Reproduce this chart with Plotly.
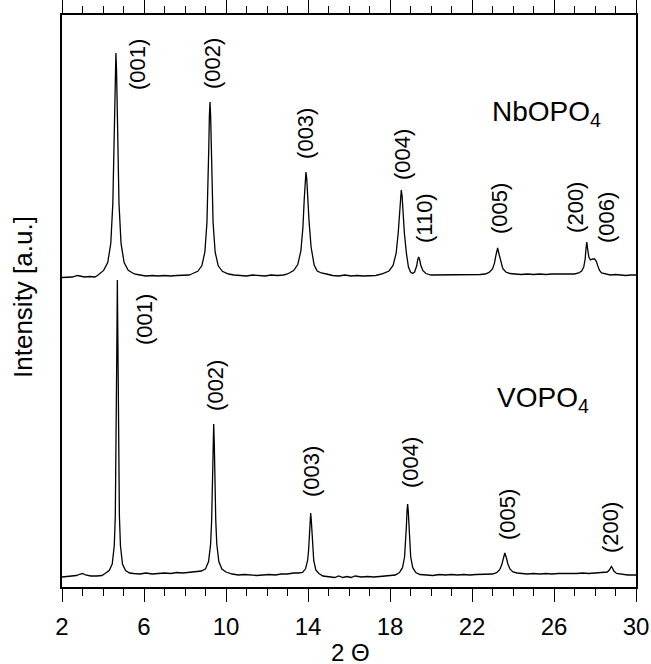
import plotly.graph_objects as go

# ---------------- data ----------------
# VOPO4 pattern: 2-theta (deg) and intensity (a.u.)
V_2THETA = [2.00, 2.20, 2.45, 2.70, 2.90, 3.00, 3.15, 3.40, 3.70, 3.95,
            4.10, 4.30, 4.45, 4.55, 4.60, 4.64, 4.67, 4.70, 4.73, 4.76, 4.80, 4.85, 4.95, 5.10, 5.30,
            5.50, 5.80, 6.10, 6.40, 6.70, 7.00, 7.30, 7.60, 7.90, 8.20, 8.50, 8.80,
            9.00, 9.15, 9.25, 9.30, 9.34, 9.37, 9.40, 9.43, 9.46, 9.50, 9.55, 9.65, 9.80, 10.00,
            10.30, 10.60, 10.90, 11.20, 11.50, 11.80, 12.10, 12.40, 12.70, 13.00, 13.30, 13.53,
            13.73, 13.88, 13.98, 14.03, 14.07, 14.10, 14.13, 14.16, 14.19, 14.23, 14.28, 14.38, 14.53, 14.73,
            15.00, 15.30, 15.50, 15.70, 15.90, 16.10, 16.30, 16.60, 16.90, 17.20, 17.50, 17.80, 18.10, 18.26,
            18.46, 18.61, 18.71, 18.76, 18.80, 18.83, 18.86, 18.89, 18.92, 18.96, 19.01, 19.11, 19.26, 19.46,
            19.80, 20.10, 20.40, 20.70, 21.00, 21.30, 21.60, 21.90, 22.20, 22.50, 22.80, 23.00,
            23.20, 23.35, 23.45, 23.52, 23.60, 23.68, 23.75, 23.85, 24.00, 24.20, 24.40,
            24.70, 25.00, 25.30, 25.60, 25.90, 26.20, 26.50, 26.80, 27.10, 27.40, 27.70, 28.00, 28.25,
            28.40, 28.50, 28.60, 28.70, 28.76, 28.80, 28.85, 28.92, 29.05, 29.30, 29.60, 30.00]
V_INTENSITY = [10, 10.5, 11, 11.5, 13, 13.5, 12, 11, 11, 11.5,
               13.5, 16.5, 23, 41.5, 71, 133, 229, 307, 229, 133, 71, 41.5, 23, 16.5, 14,
               13.5, 13, 14, 13, 13.5, 14, 13.5, 14.5, 14, 14.5, 15, 16,
               18.1, 25.4, 43, 67, 104.5, 142, 163, 142, 104.5, 67, 43, 25.4, 18, 15,
               13, 12, 12.5, 12, 11.5, 12, 12.5, 12, 13, 13, 14, 14,
               14.6, 18.2, 26.5, 37, 53, 67, 74, 67, 53, 37, 26.5, 17, 13.5, 11,
               10, 9.5, 11, 9.5, 10.5, 9.5, 11, 10, 10.5, 10, 10.5, 11, 11.5, 12,
               14.5, 19.3, 30, 43, 61, 76, 83, 76, 61, 43, 30, 19.3, 14.5, 12.5,
               12, 11.5, 12.5, 12, 12.5, 12, 12.5, 12, 12.5, 12.5, 13, 13,
               14.4, 17.3, 22.2, 28.5, 34, 29, 23, 18, 15, 14, 13.5,
               13, 13.5, 13, 13.5, 13, 13.5, 13.5, 13, 13.5, 14, 13.5, 14, 14.5,
               15, 15.5, 15, 17, 19.5, 20.5, 19, 16, 13.5, 12.5, 12, 12]

# NbOPO4 pattern: 2-theta (deg) and intensity (a.u.), drawn shifted up by NB_OFFSET
NB_2THETA = [2.00, 2.25, 2.50, 2.75, 2.90, 3.10, 3.35, 3.60, 3.73,
             4.03, 4.23, 4.38, 4.48, 4.53, 4.57, 4.60, 4.63, 4.66, 4.69, 4.73, 4.78, 4.88, 5.03, 5.23, 5.53,
             5.80, 6.10, 6.40, 6.70, 7.00, 7.30, 7.60, 7.90, 8.20, 8.32,
             8.62, 8.82, 8.97, 9.07, 9.12, 9.16, 9.19, 9.22, 9.25, 9.28, 9.32, 9.37, 9.47, 9.62, 9.82, 10.12,
             10.40, 10.70, 11.00, 11.30, 11.60, 11.90, 12.20, 12.50, 12.80, 13.00,
             13.30, 13.50, 13.65, 13.75, 13.82, 13.86, 13.90, 13.94, 13.98, 14.05, 14.15, 14.22, 14.30, 14.45, 14.65, 14.90,
             15.20, 15.50, 15.80, 16.10, 16.40, 16.70, 17.00, 17.30, 17.65,
             17.95, 18.15, 18.30, 18.40, 18.47, 18.51, 18.55, 18.59, 18.63, 18.70, 18.80, 18.90, 19.00,
             19.10, 19.20, 19.30, 19.35, 19.40, 19.45, 19.50, 19.60, 19.75, 20.00,
             20.30, 20.60, 20.90, 21.20, 21.50, 21.80, 22.10, 22.40, 22.65,
             22.85, 23.00, 23.10, 23.17, 23.25, 23.33, 23.40, 23.50, 23.65, 23.85,
             24.10, 24.40, 24.70, 25.00, 25.30, 25.60, 25.90, 26.20, 26.50, 26.80,
             27.00, 27.20, 27.35, 27.45, 27.52, 27.56, 27.60, 27.64, 27.70, 27.78, 27.88, 27.98, 28.06, 28.14,
             28.22, 28.32, 28.50, 28.75, 29.00, 29.25, 29.50, 29.75, 30.00]
NB_INTENSITY = [11.5, 12, 12, 13.5, 13, 12, 12.5, 12, 13.5,
                18.6, 26.4, 45.6, 85.7, 129, 181, 219, 236, 219, 181, 129, 85.7, 45.6, 26.4, 18.6, 15,
                14, 13, 13.5, 13, 13.5, 13, 13.5, 13.5, 14, 15,
                17.7, 23.2, 37, 66.5, 100, 141, 173, 187, 173, 141, 100, 66.5, 37, 23.2, 17.7, 15,
                14, 13.5, 13, 14, 13.5, 13, 14, 13.5, 14, 15,
                18.4, 24.4, 37.8, 61, 91, 109, 117, 110, 93, 68, 42, 34, 24, 18, 16, 15,
                13.5, 13, 14, 13, 13.5, 13, 13.5, 13.5, 15.3,
                18, 23.6, 35.8, 56, 80, 93, 99, 93, 80, 56, 35.8, 22, 17,
                15.5, 17, 23, 29, 32, 29, 24, 18.5, 15.5, 14,
                14, 14.5, 14, 14.5, 14, 14.5, 14, 14.5, 15,
                16.8, 20.1, 26.1, 34, 41, 34, 27, 20.5, 17, 15.5,
                15, 14.5, 15, 14.5, 15, 14.5, 15, 15, 14.5, 15,
                15, 16, 18, 22, 30, 40, 47, 40, 32, 29, 30, 30, 28, 23,
                18.5, 16, 15, 14, 14.5, 14, 13.5, 14, 14]
NB_OFFSET = 298

# peak labels
NB_LABELS = ["(001)", "(002)", "(003)", "(004)", "(110)", "(005)", "(200)", "(006)"]
V_LABELS = ["(001)", "(002)", "(003)", "(004)", "(005)", "(200)"]
SERIES_NAMES = ["NbOPO<sub>4</sub>", "VOPO<sub>4</sub>"]

X_TICKS = [2, 6, 10, 14, 18, 22, 26, 30]
X_TITLE = "2 Θ"
Y_TITLE = "Intensity [a.u.]"

# ---------------- layout constants ----------------
NB_LABEL_POS = [(5.66, 522), (9.32, 523), (13.85, 454), (18.59, 432),
                (19.66, 369), (23.32, 378), (27.02, 380), (28.54, 369)]
V_LABEL_POS = [(6.00, 267), (9.46, 202), (14.15, 115), (18.98, 124),
               (23.71, 72), (28.73, 60)]
NAME_POS = [(22.88, 474), (23.12, 188)]

FONT = "Liberation Sans, Arial, Helvetica, sans-serif"
X_RANGE = [2, 30]
Y_RANGE = [0, 572]

fig = go.Figure()
fig.add_trace(go.Scatter(x=NB_2THETA, y=[v + NB_OFFSET for v in NB_INTENSITY],
                         mode="lines", line=dict(color="black", width=1.3),
                         name="NbOPO4", showlegend=False, hoverinfo="skip"))
fig.add_trace(go.Scatter(x=V_2THETA, y=V_INTENSITY,
                         mode="lines", line=dict(color="black", width=1.3),
                         name="VOPO4", showlegend=False, hoverinfo="skip"))

annotations = []
for txt, (ax, ay) in zip(NB_LABELS, NB_LABEL_POS):
    annotations.append(dict(x=ax, y=ay, xref="x", yref="y", text=txt, textangle=-90,
                            showarrow=False, xanchor="center", yanchor="middle",
                            font=dict(family=FONT, size=22, color="black")))
for txt, (ax, ay) in zip(V_LABELS, V_LABEL_POS):
    annotations.append(dict(x=ax, y=ay, xref="x", yref="y", text=txt, textangle=-90,
                            showarrow=False, xanchor="center", yanchor="middle",
                            font=dict(family=FONT, size=22, color="black")))
for txt, (ax, ay) in zip(SERIES_NAMES, NAME_POS):
    annotations.append(dict(x=ax, y=ay, xref="x", yref="y", text=txt,
                            showarrow=False, xanchor="left", yanchor="middle",
                            font=dict(family=FONT, size=28, color="black")))
annotations.append(dict(x=-0.068, y=0.507, xref="paper", yref="paper", text=Y_TITLE,
                        textangle=-90, showarrow=False, xanchor="center", yanchor="middle",
                        font=dict(family=FONT, size=26, color="black")))
annotations.append(dict(x=0.502, y=-0.114, xref="paper", yref="paper", text=X_TITLE,
                        showarrow=False, xanchor="center", yanchor="middle",
                        font=dict(family=FONT, size=24, color="black")))

fig.update_layout(
    width=651, height=664,
    margin=dict(l=62, r=15, t=15, b=77, autoexpand=False),
    paper_bgcolor="white", plot_bgcolor="white",
    showlegend=False,
    annotations=annotations,
    xaxis=dict(range=X_RANGE, tickmode="array", tickvals=X_TICKS,
               ticktext=[str(t) for t in X_TICKS],
               ticks="outside", ticklen=13, tickwidth=1.3, tickcolor="black",
               minor=dict(dtick=1, tick0=2, ticks="outside", ticklen=7,
                          tickwidth=1.2, tickcolor="black", showgrid=False),
               showline=True, mirror="allticks", linecolor="black", linewidth=1.5,
               showgrid=False, zeroline=False,
               tickfont=dict(family=FONT, size=24, color="black"),
               ticklabelstandoff=4),
    yaxis=dict(range=Y_RANGE, showticklabels=False, ticks="",
               showline=True, mirror=True, linecolor="black", linewidth=1.5,
               showgrid=False, zeroline=False),
)

fig.write_html("out.html",
               config={"displayModeBar": False, "responsive": False},
               post_script="document.body.style.margin='0px';document.body.style.padding='0px';")
